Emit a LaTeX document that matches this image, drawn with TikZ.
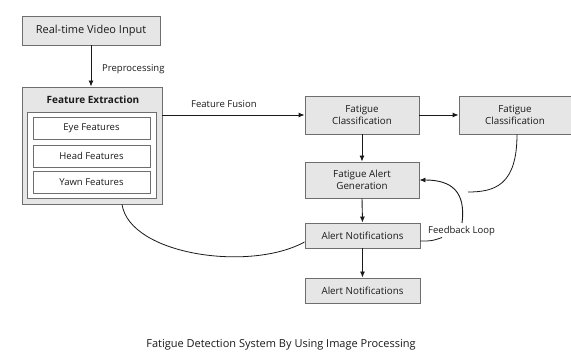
\documentclass[tikz,border=0pt]{standalone}
\usepackage{fontspec}
\setmainfont{Open Sans}
\usetikzlibrary{arrows.meta,calc}
\definecolor{boxfill}{HTML}{E6E6E6}
\definecolor{boxline}{HTML}{6E6E6E}
\definecolor{inkline}{HTML}{1A1A1A}
\tikzset{
  greybox/.style={draw=boxline, line width=0.9pt, fill=boxfill, inner sep=0pt,
    align=center, font=\fontsize{9.8}{11.8}\selectfont, text=inkline},
  featbox/.style={draw=boxline, line width=0.7pt, fill=white, inner sep=0pt,
    minimum width=117pt, minimum height=22pt, font=\fontsize{9.5}{11}\selectfont, text=inkline},
  flow/.style={draw=inkline, line width=0.9pt, -{Latex[length=6pt,width=5pt]}},
  plainline/.style={draw=inkline, line width=0.8pt},
  lbl/.style={font=\fontsize{9.5}{11}\selectfont, text=inkline, inner sep=0pt}
}
\begin{document}
\begin{tikzpicture}[x=1pt,y=-1pt]
  \useasboundingbox[fill=white] (0,0) rectangle (571,355);

  % input stage
  \node[greybox, minimum width=138pt, minimum height=29pt, font=\fontsize{11}{13}\selectfont] (rtv) at (91,30.5) {Real-time Video Input};

  % feature extraction group
  \node[greybox, minimum width=140pt, minimum height=117pt] (fe) at (92,145.5) {};
  \node[font=\fontsize{10}{12}\selectfont\bfseries, text=inkline] (fetitle) at (93,100) {Feature Extraction};
  \node[draw=boxline, line width=0.8pt, fill=white, minimum width=129pt, minimum height=86pt, inner sep=0pt] (panel) at (91.5,155) {};
  \node[featbox] (eye) at (91.5,128.5) {Eye Features};
  \node[featbox] (head) at (91.5,156) {Head Features};
  \node[featbox] (yawn) at (91.5,182.5) {Yawn Features};

  % classification and alert chain
  \node[greybox, minimum width=114pt, minimum height=38pt] (fc1) at (362,115) {Fatigue\\Classification};
  \node[greybox, minimum width=112pt, minimum height=38pt] (fc2) at (515,115) {Fatigue\\Classification};
  \node[greybox, minimum width=114pt, minimum height=36pt] (fag) at (362,180) {Fatigue Alert\\Generation};
  \node[greybox, minimum width=115pt, minimum height=25pt] (an1) at (362.5,235.5) {Alert Notifications};
  \node[greybox, minimum width=115pt, minimum height=25pt] (an2) at (362.5,290.5) {Alert Notifications};

  % straight connectors
  \draw[flow] (rtv.south) -- (rtv.south |- fe.north);
  \node[lbl, anchor=west] (prep) at (102,69) {Preprocessing};
  \draw[flow] (fe.east |- fc1.west) -- (fc1.west);
  \node[lbl, anchor=west] (fusion) at (191,104) {Feature Fusion};
  \draw[flow] (fc1.east) -- (fc2.west);
  \draw[flow] (fc1.south) -- (fag.north);
  \draw[flow] (fag.south) -- (an1.north);
  \draw[flow] (an1.south) -- (an2.north);

  % curved connectors
  \coordinate (fc2tail) at (468,192);
  \draw[plainline] ($(fc2.south)+(2,0)$) .. controls (517,185) and (495,192) .. (fc2tail);
  \coordinate (fbstart) at (462,223);
  \draw[flow] (fbstart) .. controls (466,192) and (452,180) .. (fag.east);
  \node[lbl, anchor=west] (fbloop) at (428,231) {Feedback Loop};
  \coordinate (fbtick) at (442,237.5);
  \draw[plainline] ([yshift=-5.5pt]an1.east) .. controls (432,241) .. (fbtick);
  \draw[plainline] (fe.south -| 122,0) .. controls (130,255) and (250,272) .. ([yshift=-6.5pt]an1.west);

  % caption
  \node[font=\fontsize{11}{13}\selectfont, text=inkline] (caption) at (281,345) {Fatigue Detection System By Using Image Processing};
\end{tikzpicture}
\end{document}
